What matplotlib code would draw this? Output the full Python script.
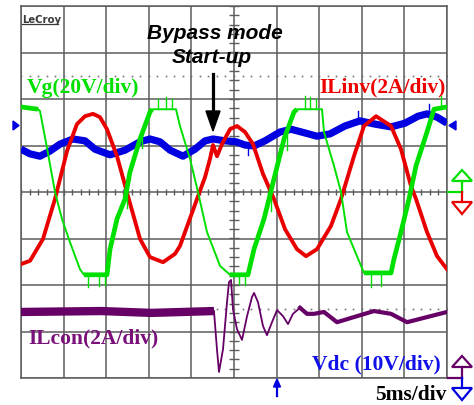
import numpy as np
import matplotlib.pyplot as plt
from matplotlib.lines import Line2D
from matplotlib.patches import Polygon

W, H = 474, 406  # output size in pixels

# --- scope traces: time in ms (5 ms/div), amplitude in divisions ---
vg_t = [0.00, 2.00, 2.23, 3.05, 3.99, 4.81, 5.75, 6.92, 7.39, 10.09, 10.45, 11.27,
        12.21, 12.79, 13.97, 15.14, 15.38, 18.19, 18.66, 19.84, 20.77, 21.83, 23.36,
        24.53, 26.64, 27.35, 28.52, 29.11, 29.69, 30.87, 32.04, 32.39, 35.33, 35.56,
        36.74, 37.56, 38.26, 39.91, 40.26, 43.43, 43.78, 44.60, 45.54, 46.36, 47.65,
        48.47, 50.00]
vg_y = [1.83, 1.78, 1.74, 0.95, 0.00, -0.58, -1.08, -1.66, -1.78, -1.78, -1.23, -0.58,
        -0.15, 0.43, 1.14, 1.72, 1.78, 1.78, 1.42, 0.71, 0.00, -0.86, -1.59,
        -1.78, -1.78, -1.23, -0.58, -0.15, 0.28, 1.14, 1.72, 1.78, 1.78, 1.29,
        0.56, 0.00, -0.86, -1.59, -1.74, -1.74, -1.44, -0.86, -0.15, 0.56, 1.29,
        1.78, 1.83]
# stretches where the Vg trace is a wide noisy band (flat tops, bottoms, rising edges)
vg_noisy = [(0.0, 2.1), (7.2, 15.4), (17.9, 18.3), (24.3, 32.5), (35.0, 35.4),
            (40.1, 50.0)]
# single noise spikes on Vg: (time, tip level)
vg_spikes_t = [7.9, 9.2, 9.9, 12.4, 14.2, 16.1, 17.0, 17.7, 25.6, 26.3, 29.4, 31.2,
               33.3, 33.9, 34.6, 41.1, 42.3, 45.1, 47.0, 49.3]
vg_spikes_y = [-2.04, -2.02, -2.00, -0.35, 0.95, 2.00, 2.04, 2.00, -1.98, -2.00, -0.40,
               0.90, 2.06, 2.04, 2.00, -2.04, -2.02, -0.45, 1.00, 2.06]

il_inv_t = [0.00, 1.06, 2.58, 3.99, 5.40, 6.57, 7.51, 8.45, 9.27, 10.09, 11.27, 12.56,
            13.97, 15.14, 16.67, 18.08, 18.66, 20.66, 21.60, 22.18, 22.54, 23.00, 23.59,
            24.53, 25.35, 26.29, 27.23, 28.40, 29.69, 30.99, 32.39, 33.45, 34.74, 36.38,
            37.56, 39.08, 40.26, 41.67, 43.43, 44.60, 45.77, 46.36, 47.65, 48.83, 50.00]
il_inv_y = [-1.55, -1.48, -1.01, -0.15, 0.88, 1.46, 1.63, 1.68, 1.61, 1.35, 0.77, -0.09,
            -1.01, -1.40, -1.51, -1.33, -1.16, -0.15, 0.32, 0.71, 1.01, 0.77, 1.03,
            1.35, 1.42, 1.29, 1.03, 0.39, -0.15, -0.80, -1.23, -1.38, -1.23, -0.73,
            -0.15, 0.77, 1.42, 1.63, 1.42, 0.92, 0.13, -0.15, -0.86, -1.38, -1.66]

vdc_t = [0.00, 1.06, 2.23, 3.40, 4.58, 6.10, 7.51, 8.69, 10.45, 12.21, 13.97, 15.14,
         16.31, 17.49, 19.01, 20.42, 21.60, 22.54, 23.94, 25.23, 26.29, 27.35, 28.64,
         30.40, 31.69, 33.33, 34.74, 36.27, 38.03, 39.79, 41.55, 43.43, 45.07, 46.60,
         47.65, 48.83, 50.00]
vdc_y = [0.92, 0.82, 0.77, 0.88, 1.03, 1.14, 1.10, 0.92, 0.80, 0.90, 1.08, 1.14,
         1.08, 0.90, 0.77, 0.92, 1.10, 1.14, 1.10, 1.08, 1.01, 0.99, 1.10,
         1.29, 1.35, 1.27, 1.20, 1.25, 1.42, 1.53, 1.46, 1.40, 1.48, 1.63,
         1.68, 1.61, 1.48]
# isolated glitches on Vdc: (time, tip level)
vdc_spikes_t = [26.6, 39.6, 47.9]
vdc_spikes_y = [0.80, 1.75, 1.90]

il_con_t = [0.00, 9.40, 15.30, 22.65, 23.00, 23.24, 23.71, 24.18, 24.41, 24.65, 24.88,
            25.35, 25.94, 26.53, 27.11, 27.35, 27.82, 28.40, 28.87, 29.46, 30.05, 30.75,
            31.34, 31.92, 32.75, 33.57, 34.39, 35.56, 37.09, 39.08, 41.43, 43.43, 45.31,
            47.65, 50.00]
il_con_y = [-2.58, -2.56, -2.60, -2.56, -3.38, -3.87, -3.38, -2.37, -1.94, -1.89, -2.52,
            -2.95, -3.18, -2.67, -2.26, -2.17, -2.37, -2.88, -3.08, -2.80, -2.54, -2.67,
            -2.84, -2.62, -2.49, -2.62, -2.62, -2.58, -2.80, -2.69, -2.56, -2.62, -2.80,
            -2.69, -2.58]
t_bypass = 22.65    # converter starts switching here
t_settled = 32.75   # end of the ringing

GRID = '#5c5c5c'
GREEN, RED, BLUE, PURPLE = '#00e000', '#e80000', '#0000e0', '#660066'


def fx(x):
    return x / W


def fy(y):
    return 1 - y / H


fig = plt.figure(figsize=(W / 100, H / 100), dpi=100)
ax = fig.add_axes([fx(21), fy(379), 426 / W, 372 / H])
ax.set_xlim(0, 50)
ax.set_ylim(-4, 4)
ax.set_xticks(np.arange(0, 51, 5))
ax.set_yticks(np.arange(-4, 5, 1))
ax.tick_params(length=0, labelbottom=False, labelleft=False)
ax.grid(True, color=GRID, lw=1.1)
for s in ax.spines.values():
    s.set_color(GRID)
    s.set_linewidth(1.1)

# minor ticks on the centre cross
ax.vlines(np.arange(0, 51, 1), -0.075, 0.075, color=GRID, lw=1.0)
ax.hlines(np.arange(-4, 4.01, 0.2), 25 - 0.6, 25 + 0.6, color=GRID, lw=1.0)

# reference dotted levels
ax.plot(np.arange(0, 51, 1), np.full(51, 2.49), ls='none', marker='s', ms=1.2,
        color='#707070', mec='none')
dots = np.arange(23, 51, 1)
ax.plot(dots, np.full(len(dots), -2.52), ls='none', marker='s', ms=1.2,
        color='#707070', mec='none')

# Vdc
ax.plot(vdc_t, vdc_y, color=BLUE, lw=5.2, solid_capstyle='butt', zorder=3)
for t, y in zip(vdc_spikes_t, vdc_spikes_y):
    ax.plot([t, t], [np.interp(t, vdc_t, vdc_y), y], color=BLUE, lw=1.0, zorder=3)

# ILinv
ax.plot(il_inv_t, il_inv_y, color=RED, lw=2.8, zorder=4)

# Vg: thin trace plus the noisy stretches drawn wider
vt, vy = np.array(vg_t), np.array(vg_y)
ax.plot(vt, vy, color=GREEN, lw=1.4, zorder=5)
for a, b in vg_noisy:
    m = (vt >= a) & (vt <= b)
    ax.plot(vt[m], vy[m], color=GREEN, lw=3.4, zorder=5, solid_capstyle='butt')
for t, y in zip(vg_spikes_t, vg_spikes_y):
    ax.plot([t, t], [np.interp(t, vg_t, vg_y), y], color=GREEN, lw=1.0, zorder=5)

# ILcon: noisy band before start-up, thin ringing, then medium tail
ct, cy = np.array(il_con_t), np.array(il_con_y)
m0 = ct <= t_bypass
m1 = (ct >= t_bypass) & (ct <= t_settled)
m2 = ct >= t_settled
ax.plot(ct[m0], cy[m0], color=PURPLE, lw=6.0, zorder=6, solid_capstyle='butt')
ax.plot(ct[m1], cy[m1], color=PURPLE, lw=1.3, zorder=6)
ax.plot(ct[m2], cy[m2], color=PURPLE, lw=3.0, zorder=6)

# --- annotations ---
serif = dict(family='Liberation Serif', weight='bold', fontsize=15.5, va='baseline')
fig.text(fx(27), fy(93), 'Vg(20V/div)', color='#00e000', **serif)
fig.text(fx(446), fy(92), 'ILinv(2A/div)', color='#ee0000', ha='right', **serif)
fig.text(fx(28), fy(343), 'ILcon(2A/div)', color='#7a107a', **serif)
fig.text(fx(441), fy(369), 'Vdc (10V/div)', color='#1010e8', ha='right', **serif)
fig.text(fx(447), fy(400), '5ms/div', color='black', ha='right', **serif)

sans = dict(family='Liberation Sans', weight='bold', style='italic', fontsize=15,
            va='baseline', ha='center', color='black')
fig.text(fx(215), fy(39), 'Bypass mode', **sans)
fig.text(fx(212), fy(63), 'Start-up', **sans)

# scope logo
fig.text(fx(22), fy(23), 'LeCroy', family='DejaVu Sans', weight='bold', fontsize=7.3,
         color='#3a3a3a', va='baseline')
fig.add_artist(Line2D([fx(22), fx(58)], [fy(25), fy(25)], color='#3a3a3a', lw=0.9))

# start-up arrow
fig.add_artist(Line2D([fx(213), fx(213)], [fy(75), fy(114)], color='black', lw=2.3))
fig.add_artist(Polygon([(fx(206), fy(112)), (fx(220), fy(112)), (fx(213), fy(132))],
                       closed=True, color='black', transform=fig.transFigure))

# trigger marker under the grid
fig.add_artist(Line2D([fx(277), fx(277)], [fy(386), fy(397)], color=BLUE, lw=1.6))
fig.add_artist(Polygon([(fx(273.5), fy(388)), (fx(280.5), fy(388)), (fx(277), fy(380))],
                       closed=True, color=BLUE, transform=fig.transFigure))

# level markers for Vdc
fig.add_artist(Polygon([(fx(13), fy(122)), (fx(13), fy(131)), (fx(19), fy(126.5))],
                       closed=True, color=BLUE, transform=fig.transFigure))
fig.add_artist(Polygon([(fx(456), fy(122)), (fx(456), fy(131)), (fx(449), fy(126.5))],
                       closed=True, color=BLUE, transform=fig.transFigure))


def channel_marker(y0, up_color, down_color):
    # pair of off-screen offset arrows sharing one stem, centred on y0
    kw = dict(closed=True, fill=False, lw=1.6, transform=fig.transFigure)
    fig.add_artist(Polygon([(fx(452), fy(y0 - 11)), (fx(472), fy(y0 - 11)),
                            (fx(462), fy(y0 - 22))], ec=up_color, **kw))
    fig.add_artist(Line2D([fx(462), fx(462)], [fy(y0 - 11), fy(y0)], color=up_color, lw=1.6))
    fig.add_artist(Line2D([fx(448), fx(462)], [fy(y0), fy(y0)], color=up_color, lw=1.6))
    fig.add_artist(Line2D([fx(462), fx(462)], [fy(y0), fy(y0 + 10)], color=down_color, lw=1.6))
    fig.add_artist(Polygon([(fx(452), fy(y0 + 10)), (fx(472), fy(y0 + 10)),
                            (fx(462), fy(y0 + 22))], ec=down_color, **kw))


channel_marker(193, GREEN, RED)
channel_marker(379, PURPLE, BLUE)

fig.savefig('out.png', dpi=100, facecolor='white')
